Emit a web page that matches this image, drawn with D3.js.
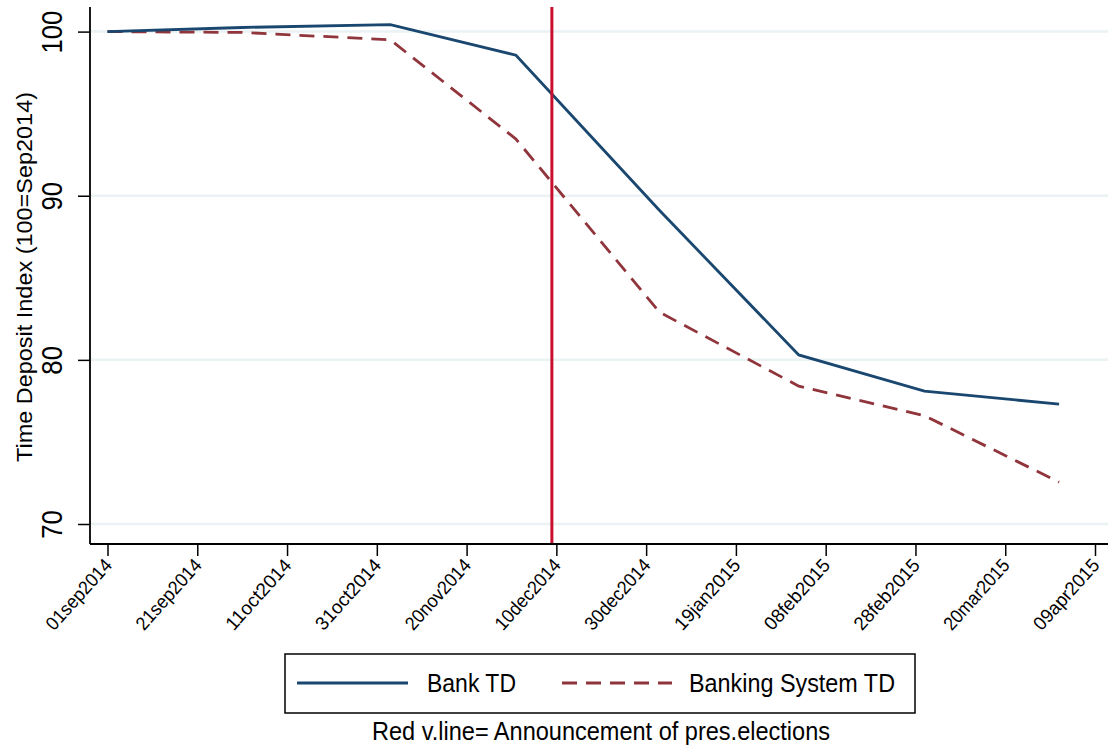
<!DOCTYPE html>
<html>
<head>
<meta charset="utf-8">
<script src="https://cdn.jsdelivr.net/npm/d3@7"></script>
<style>
  html, body { margin: 0; padding: 0; background: #fff; }
  svg { display: block; font-family: "Liberation Sans", Arial, sans-serif; }
</style>
</head>
<body>
<svg id="chart" width="1108" height="749"></svg>
<script>
// ---- data ----
const dates = ["2014-09-01","2014-10-01","2014-11-03","2014-12-01","2015-01-02","2015-02-02","2015-03-02","2015-04-01"];
const bankTD = [100, 100.25, 100.43, 98.56, 89.1, 80.3, 78.1, 77.3];
const systemTD = [100, 99.95, 99.5, 93.45, 82.9, 78.4, 76.6, 72.55];
const seriesNames = ["Bank TD", "Banking System TD"];
const yTicks = [70, 80, 90, 100];
const xTickLabels = ["01sep2014","21sep2014","11oct2014","31oct2014","20nov2014","10dec2014","30dec2014","19jan2015","08feb2015","28feb2015","20mar2015","09apr2015"];
const eventDate = "2014-12-09";
const yTitle = "Time Deposit Index (100=Sep2014)";
const note = "Red v.line= Announcement of pres.elections";

// ---- scales ----
const parse = d3.utcParse("%Y-%m-%d");
const parseTick = d3.utcParse("%d%b%Y");
const tickDates = xTickLabels.map(s => parseTick(s));
const x = d3.scaleUtc().domain([tickDates[0], tickDates[tickDates.length - 1]]).range([107.5, 1095]);
const y = d3.scaleLinear().domain([70, 100]).range([524, 31.6]);

const svg = d3.select("#chart");
svg.append("rect").attr("width", 1108).attr("height", 749).attr("fill", "#fff");

const axisX = 90, axisY = 544;

// gridlines
svg.append("g").selectAll("line").data(yTicks).join("line")
  .attr("x1", axisX + 1).attr("x2", 1108)
  .attr("y1", d => y(d)).attr("y2", d => y(d))
  .attr("stroke", "#eaf2f3").attr("stroke-width", 2.5);

// y axis
const gy = svg.append("g").attr("transform", `translate(${axisX},0)`)
  .call(d3.axisLeft(y).tickValues(yTicks).tickSize(12).tickPadding(14).tickFormat(d3.format("d")));
gy.select(".domain").remove();
gy.selectAll(".tick line").attr("stroke", "#000").attr("stroke-width", 1.5);
gy.selectAll(".tick text")
  .attr("font-size", 29).attr("fill", "#000")
  .attr("text-anchor", "middle")
  .attr("x", null).attr("dy", null)
  .attr("textLength", d => String(d).length * 14.3)
  .attr("lengthAdjust", "spacingAndGlyphs")
  .attr("transform", "translate(-28,0) rotate(-90)")
  .attr("y", 0);
svg.append("line").attr("x1", axisX).attr("x2", axisX).attr("y1", 7).attr("y2", axisY)
  .attr("stroke", "#000").attr("stroke-width", 1.8);

// x axis
const gx = svg.append("g").attr("transform", `translate(0,${axisY})`)
  .call(d3.axisBottom(x).tickValues(tickDates).tickSize(12).tickFormat((d, i) => xTickLabels[i]));
gx.select(".domain").remove();
gx.selectAll(".tick line").attr("stroke", "#000").attr("stroke-width", 1.5);
gx.selectAll(".tick text")
  .attr("font-size", 19).attr("fill", "#000")
  .attr("text-anchor", "end")
  .attr("y", null).attr("dy", null)
  .attr("textLength", 88)
  .attr("lengthAdjust", "spacingAndGlyphs")
  .attr("transform", "translate(5,22) rotate(-48)");
svg.append("line").attr("x1", axisX).attr("x2", 1108).attr("y1", axisY).attr("y2", axisY)
  .attr("stroke", "#000").attr("stroke-width", 1.8);

// y title
svg.append("text").attr("transform", "translate(32,277) rotate(-90)")
  .attr("text-anchor", "middle").attr("font-size", 22).attr("fill", "#000")
  .attr("textLength", 370).attr("lengthAdjust", "spacingAndGlyphs")
  .text(yTitle);

// lines
const line = d3.line().x(d => x(d[0])).y(d => y(d[1]));
const bankData = dates.map((d, i) => [parse(d), bankTD[i]]);
const sysData = dates.map((d, i) => [parse(d), systemTD[i]]);

svg.append("path").datum(sysData).attr("d", line)
  .attr("fill", "none").attr("stroke", "#90353b").attr("stroke-width", 2.8)
  .attr("stroke-dasharray", "15 9");
svg.append("path").datum(bankData).attr("d", line)
  .attr("fill", "none").attr("stroke", "#1a476f").attr("stroke-width", 2.8);

// event line
svg.append("line").attr("x1", x(parse(eventDate))).attr("x2", x(parse(eventDate)))
  .attr("y1", 7).attr("y2", axisY - 1)
  .attr("stroke", "#c8102e").attr("stroke-width", 3);

// legend
const lg = svg.append("g");
lg.append("rect").attr("x", 285).attr("y", 654).attr("width", 630).attr("height", 59)
  .attr("fill", "#fff").attr("stroke", "#000").attr("stroke-width", 1.5);
lg.append("line").attr("x1", 297).attr("x2", 408).attr("y1", 683).attr("y2", 683)
  .attr("stroke", "#1a476f").attr("stroke-width", 3);
lg.append("text").attr("x", 427).attr("y", 692).attr("font-size", 26).attr("fill", "#000")
  .attr("textLength", 89).attr("lengthAdjust", "spacingAndGlyphs").text(seriesNames[0]);
lg.append("line").attr("x1", 562).attr("x2", 672).attr("y1", 683).attr("y2", 683)
  .attr("stroke", "#90353b").attr("stroke-width", 3).attr("stroke-dasharray", "15 9");
lg.append("text").attr("x", 689).attr("y", 692).attr("font-size", 26).attr("fill", "#000")
  .attr("textLength", 206).attr("lengthAdjust", "spacingAndGlyphs").text(seriesNames[1]);

// note
svg.append("text").attr("x", 372).attr("y", 740)
  .attr("font-size", 26).attr("fill", "#000")
  .attr("textLength", 458).attr("lengthAdjust", "spacingAndGlyphs").text(note);
</script>
</body>
</html>
